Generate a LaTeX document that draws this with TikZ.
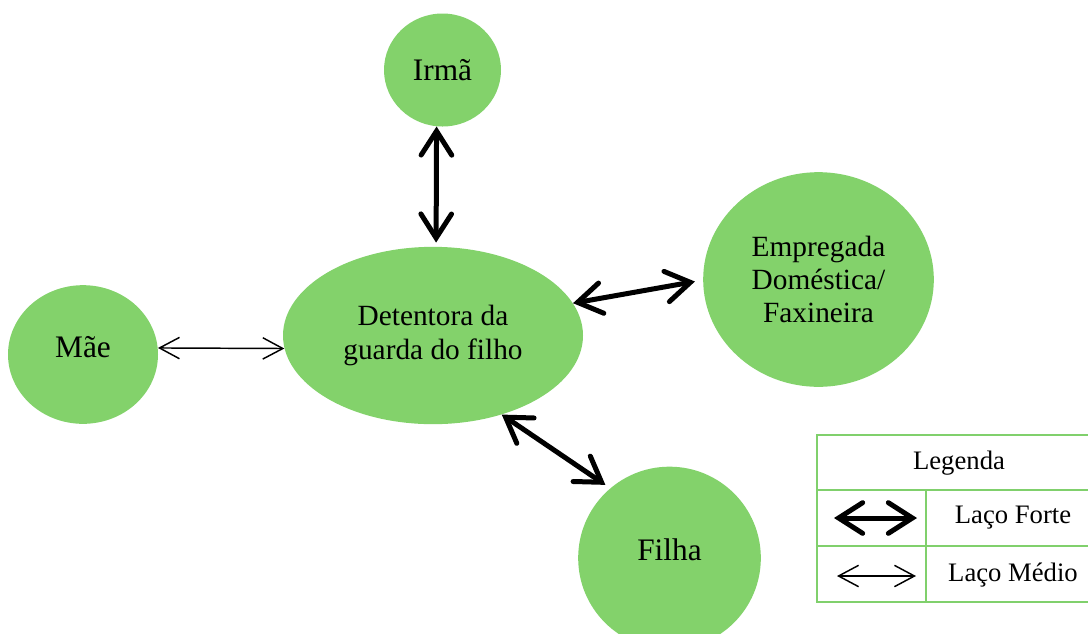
\documentclass[tikz,border=0pt]{standalone}
\usepackage{fontspec}
\setmainfont{Liberation Serif}
\usetikzlibrary{shapes.geometric,arrows.meta}
\definecolor{nodegreen}{HTML}{83D26B}
\definecolor{legendgreen}{HTML}{80D06C}
\tikzset{
  person/.style={ellipse,fill=nodegreen,draw=none,inner sep=0pt,align=center,
    font=\fontsize{22}{25}\selectfont},
  bigtext/.style={font=\fontsize{23.5}{26}\selectfont,inner sep=0pt},
  strong/.style={line width=3.75pt,line cap=round,
    {Straight Barb[length=18pt,width=23pt,line cap=round]}-{Straight Barb[length=18pt,width=23pt,line cap=round]}},
  medium/.style={line width=1.1pt,
    {Straight Barb[length=15pt,width=16pt]}-{Straight Barb[length=15pt,width=16pt]}},
  legline/.style={draw=legendgreen,line width=1.5pt},
  legtext/.style={font=\fontsize{20}{24}\selectfont,inner sep=0pt}
}
\begin{document}
\begin{tikzpicture}[x=0.75pt,y=-0.75pt]
\useasboundingbox (0,0) rectangle (1088,633);
% people
\node[person,bigtext,minimum width=87.75pt,minimum height=84.75pt] (irma) at (442.5,70) {Irmã};
\node[person,minimum width=225pt,minimum height=133pt] (det) at (433,335.5) {Detentora da\\guarda do filho};
\node[person,minimum width=112.5pt,minimum height=104pt] (mae) at (83,354.5) {};
\node[bigtext] (maetext) at (83,347) {Mãe};
\node[person,minimum width=173pt,minimum height=161pt] (emp) at (818.5,279.5) {Empregada\\Doméstica/\\Faxineira};
\node[person,minimum width=137pt,minimum height=137pt] (filha) at (669.5,558) {};
\node[bigtext] (filhatext) at (669.5,550) {Filha};
% ties
\draw[strong] (irma.264) -- ([yshift=3pt]det.88);
\draw[medium] (mae.5) -- (det.185);
\draw[strong] (det.13) -- ([xshift=-6pt]emp.181);
\draw[strong] (det.-49) -- ([shift={(-4,-4)}]filha.131);
% legend
\draw[legline] (817,435) rectangle (1092,602);
\draw[legline] (817,490) -- (1092,490);
\draw[legline] (817,546) -- (1092,546);
\draw[legline] (926,490) -- (926,602);
\node[legtext] (leg) at (959,463) {Legenda};
\node[legtext] (forte) at (1013,518) {Laço Forte};
\node[legtext] (medio) at (1013,575) {Laço Médio};
\coordinate (fa) at (834,518);
\coordinate (fb) at (917,518);
\coordinate (ma) at (837,576);
\coordinate (mb) at (916,576);
\draw[strong] (fa) -- (fb);
\draw[medium] (ma) -- (mb);
\end{tikzpicture}
\end{document}
